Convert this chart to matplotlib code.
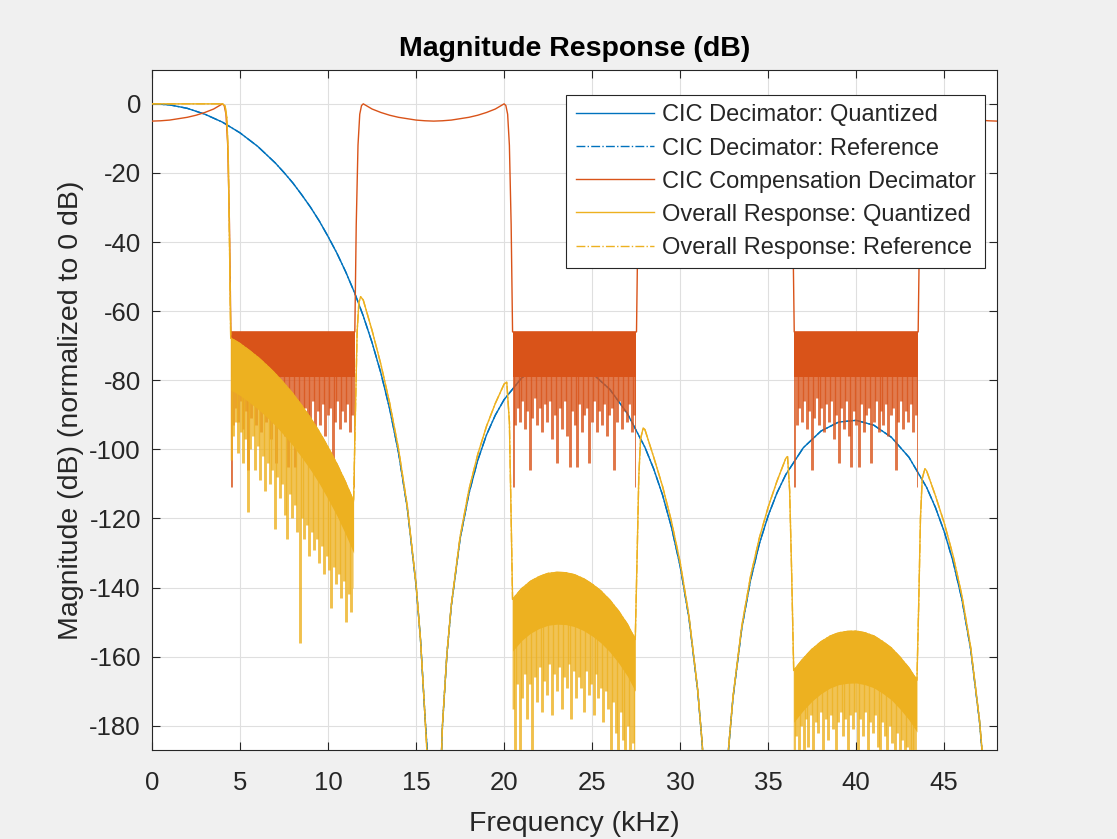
import numpy as np
import matplotlib.pyplot as plt
from matplotlib.patches import Polygon

plt.rcParams["font.family"] = ["Liberation Sans", "DejaVu Sans"]
plt.rcParams["axes.unicode_minus"] = False

# magnitude responses (kHz, dB)
cic_freq = [0, 1, 2, 3, 4, 5, 6, 7, 7.5, 8, 8.5, 9, 9.5, 10, 10.5, 11, 11.5, 12,
            12.5, 13, 13.5, 14, 14.5, 15, 15.25, 15.5, 15.8, 16.25, 16.5, 16.75,
            17, 17.5, 18, 18.5, 19, 19.5, 20, 21, 22, 23, 24, 25, 26, 27, 28,
            28.5, 29, 29.5, 30, 30.5, 31, 31.25, 31.5, 32.5, 32.75, 33, 33.5, 34,
            34.5, 35, 35.5, 36, 37, 38, 39, 40, 41, 42, 43, 44, 44.5, 45, 45.5,
            46, 46.5, 47, 47.25, 47.6]
cic_db = [0, -0.3, -1.3, -3, -5.3, -8.4, -12.3, -17.1, -19.9, -22.9, -26.3,
          -29.9, -33.9, -38.4, -43.2, -48.6, -54.6, -61.4, -69.1, -77.9, -88.3,
          -100.9, -117, -139.4, -155, -176.8, -200, -215, -179.7, -159.4, -145.3,
          -125.9, -112.8, -103.2, -95.8, -90.1, -85.6, -79.3, -75.8, -74.6,
          -75.3, -78, -82.6, -89.6, -99.4, -105.7, -113.2, -122.4, -133.8,
          -148.8, -170, -185.1, -206, -207, -186.6, -172, -151.8, -137.8, -127.3,
          -119.2, -112.6, -107.3, -99.5, -94.7, -92.1, -91.6, -93, -96.5, -102.3,
          -111, -116.8, -123.8, -132.4, -143.3, -157.8, -178.5, -193.4, -220]

comp_freq = [0, 0.5, 1, 1.5, 2, 2.5, 3, 3.5, 3.8, 4.0, 4.1, 4.2, 4.3, 4.4, 4.48,
             11.52, 11.6, 11.7, 11.8, 11.9, 12, 12.2, 12.5, 13, 13.5, 14, 14.5,
             15, 15.5, 16, 16.5, 17, 17.5, 18, 18.5, 19, 19.5, 19.8, 20, 20.1,
             20.2, 20.3, 20.4, 20.48,
             27.52, 27.6, 27.7, 27.8, 27.9, 28, 28.2, 28.5, 29, 29.5, 30, 30.5,
             31, 31.5, 32, 32.5, 33, 33.5, 34, 34.5, 35, 35.5, 35.8, 36, 36.1,
             36.2, 36.3, 36.4, 36.48,
             43.52, 43.6, 43.7, 43.8, 43.9, 44, 44.2, 44.5, 45, 45.5, 46, 46.5,
             47, 47.5, 48]
comp_db = [-5, -4.9, -4.7, -4.3, -3.9, -3.3, -2.5, -1.5, -0.6, 0, -0.5, -3, -12,
           -35, -66,
           -66, -35, -12, -3, -0.5, 0, -0.6, -1.5, -2.5, -3.3, -3.9, -4.3, -4.7,
           -4.9, -5, -4.9, -4.7, -4.3, -3.9, -3.3, -2.5, -1.5, -0.6, 0, -0.5,
           -3, -12, -35, -66,
           -66, -35, -12, -3, -0.5, 0, -0.6, -1.5, -2.5, -3.3, -3.9, -4.3, -4.7,
           -4.9, -5, -4.9, -4.7, -4.3, -3.9, -3.3, -2.5, -1.5, -0.6, 0, -0.5,
           -3, -12, -35, -66,
           -66, -35, -12, -3, -0.5, 0, -0.6, -1.5, -2.5, -3.3, -3.9, -4.3, -4.7,
           -4.9, -5]

overall_freq = [0, 1, 2, 3, 3.5, 4.0, 4.15, 4.25, 4.33, 4.4, 4.47,
                5, 5.5, 6, 6.5, 7, 7.5, 8, 8.5, 9, 9.5, 10, 10.5, 11, 11.45,
                11.55, 11.65, 11.75, 11.85, 12, 12.5, 13, 13.5, 14, 14.5, 15,
                15.25, 15.5, 15.75, 16.25, 16.5, 16.75, 17, 17.5, 18, 18.5, 19,
                19.5, 20, 20.15, 20.3, 20.4, 20.48,
                21, 21.5, 22, 22.5, 23, 23.5, 24, 24.5, 25, 25.5, 26, 26.5, 27,
                27.45,
                27.55, 27.65, 27.75, 27.9, 28, 28.5, 29, 29.5, 30, 30.5, 31,
                31.25, 31.5, 32.5, 32.75, 33, 33.5, 34, 34.5, 35, 35.5, 36, 36.1,
                36.22, 36.33, 36.45,
                37, 37.5, 38, 38.5, 39, 39.5, 40, 40.5, 41, 41.5, 42, 42.5, 43,
                43.45,
                43.55, 43.65, 43.75, 43.9, 44, 44.5, 45, 45.5, 46, 46.5, 47,
                47.25, 47.5]
overall_db = [0, 0, 0, 0, 0, 0, -0.6, -4, -15, -40, -67.8,
              -69.4, -71.3, -73.3, -75.6, -78.1, -80.9, -83.9, -87.3, -90.9,
              -94.9, -99.4, -104.2, -109.6, -115,
              -90, -66, -57.5, -55.8, -56.8, -65.6, -75.4, -86.6, -99.8, -116.4,
              -139.1, -154.9, -176.8, -200, -215, -179.6, -159.2, -145, -125.3,
              -111.7, -101.5, -93.3, -86.7, -81.1, -80.5, -92, -120, -143.4,
              -140.3, -138.2, -136.8, -135.9, -135.6, -135.7, -136.3, -137.4,
              -139, -141, -143.6, -146.8, -150.6, -155,
              -132, -108, -97, -93.8, -94.3, -102.3, -110.7, -120.7, -132.7,
              -148.2, -169.7, -185, -206, -207, -186.5, -171.7, -151.2, -136.7,
              -125.6, -116.7, -109.2, -102.6, -102.1, -112, -135, -164,
              -160.5, -157.8, -155.7, -154.1, -153.1, -152.7, -152.6, -153.1,
              -154, -155.6, -157.5, -160.2, -163.3, -166.8,
              -145, -120, -108.5, -105.6, -106.2, -113.4, -121.3, -130.7,
              -142.2, -157.2, -178.2, -193, -215]

# stopbands: the dense ripple is drawn as a block of nulls under the curve
comp_bands = [(4.48, 11.52), (20.48, 27.52), (36.48, 43.52)]
overall_bands = [(4.47, 11.45), (20.48, 27.45), (36.45, 43.45)]

# null depths across one compensator stopband (same in all three)
comp_nulls = [-111, -93, -88, -92, -86, -94, -89, -106, -91, -85, -93, -88, -95,
              -87, -92, -86, -97, -90, -104, -88, -94, -86, -96, -105, -89, -93,
              -105, -87, -95, -90, -88, -104, -92, -86, -95, -89, -93, -87, -96,
              -90, -88, -106, -92, -86, -94, -89, -92, -87, -95, -90, -111]

overall_nulls_1 = [-103, -96, -92, -101, -95, -104, -97, -118, -100, -96, -106,
                   -99, -109, -102, -112, -104, -110, -106, -123, -108, -114,
                   -110, -119, -126, -113, -120, -116, -124, -156, -120, -126,
                   -122, -131, -124, -129, -126, -133, -128, -136, -131, -135,
                   -146, -134, -139, -136, -143, -138, -150, -142, -147, -140]
overall_nulls_2 = [-175, -190, -168, -190, -172, -165, -178, -168, -190, -166,
                   -173, -163, -176, -167, -171, -162, -177, -165, -170, -163,
                   -175, -166, -169, -162, -178, -164, -172, -166, -169, -176,
                   -164, -171, -168, -177, -165, -172, -169, -179, -170, -175,
                   -190, -173, -182, -190, -176, -184, -190, -180, -190, -185,
                   -190]
overall_nulls_3 = [-190, -183, -190, -180, -190, -178, -186, -177, -190, -179,
                   -182, -176, -190, -178, -184, -177, -181, -190, -179, -176,
                   -183, -178, -190, -177, -181, -176, -190, -178, -183, -176,
                   -190, -179, -182, -177, -186, -190, -179, -183, -190, -180,
                   -185, -190, -182, -190, -184, -190, -186, -190, -190, -188,
                   -190]

legend_labels = ["CIC Decimator: Quantized", "CIC Decimator: Reference",
                 "CIC Compensation Decimator", "Overall Response: Quantized",
                 "Overall Response: Reference"]

blue = "#0072BD"
orange = "#D95319"
yellow = "#EDB120"
dark = "#262626"


def draw_band(ax, freq, db, lo, hi, nulls, color, solid, zorder):
    f = np.asarray(freq, dtype=float)
    d = np.asarray(db, dtype=float)
    keep = (f >= lo) & (f <= hi)
    fx, dx = f[keep], d[keep]
    verts = [(fx[0], -300)] + list(zip(fx, dx)) + [(fx[-1], -300)]
    clip = Polygon(verts, closed=True, facecolor="none", edgecolor="none")
    ax.add_patch(clip)
    ax.fill_between(fx, dx, dx - solid, color=color, lw=0, zorder=zorder)
    x = np.linspace(lo, hi, len(nulls))
    spikes = ax.vlines(x, nulls, 5, colors=color, lw=2.1, alpha=0.8,
                       zorder=zorder)
    spikes.set_clip_path(clip)


fig = plt.figure(figsize=(11.17, 8.39), dpi=100, facecolor="#F0F0F0")
ax = fig.add_axes([0.1361, 0.1061, 0.7565, 0.8105])

ax.plot(cic_freq, cic_db, color=blue, lw=1.0, zorder=2.1, label=legend_labels[0])
ax.plot(cic_freq, cic_db, "-.", color=blue, lw=1.0, zorder=2.0, label=legend_labels[1])
ax.plot(comp_freq, comp_db, color=orange, lw=1.0, zorder=3.1, label=legend_labels[2])
ax.plot(overall_freq, overall_db, color=yellow, lw=1.0, zorder=4.1, label=legend_labels[3])
ax.plot(overall_freq, overall_db, "-.", color=yellow, lw=1.0, zorder=4.0, label=legend_labels[4])

for lo, hi in comp_bands:
    draw_band(ax, comp_freq, comp_db, lo, hi, comp_nulls, orange, 13, 3)
for (lo, hi), nulls in zip(overall_bands, [overall_nulls_1, overall_nulls_2, overall_nulls_3]):
    draw_band(ax, overall_freq, overall_db, lo, hi, nulls, yellow, 15, 4)

ax.set_xlim(0, 48)
ax.set_ylim(-187, 9.8)
ax.set_xticks(np.arange(0, 46, 5))
ax.set_yticks(np.arange(-180, 1, 20))
ax.grid(True, color="#DFDFDF", lw=0.8)
ax.set_axisbelow(True)
ax.tick_params(direction="in", top=True, right=True, length=6, width=0.8,
               colors=dark, labelsize=18.5)
ax.tick_params(axis="x", pad=15)
ax.tick_params(axis="y", pad=8)
for sp in ax.spines.values():
    sp.set_color(dark)
    sp.set_linewidth(0.8)

ax.set_title("Magnitude Response (dB)", fontsize=20.5, fontweight="bold", pad=10)
ax.set_xlabel("Frequency (kHz)", fontsize=20.5, color=dark, labelpad=12)
ax.set_ylabel("Magnitude (dB) (normalized to 0 dB)", fontsize=20.5, color=dark)

leg = ax.legend(loc="upper right", bbox_to_anchor=(0.9858, 0.9632), borderaxespad=0,
                fontsize=17, handlelength=3.3, handletextpad=0.35, labelspacing=0.47,
                borderpad=0.4, fancybox=False, framealpha=1, edgecolor=dark)
leg.get_frame().set_linewidth(0.8)
for t in leg.get_texts():
    t.set_color(dark)

fig.savefig("out.png", dpi=100, facecolor=fig.get_facecolor())
